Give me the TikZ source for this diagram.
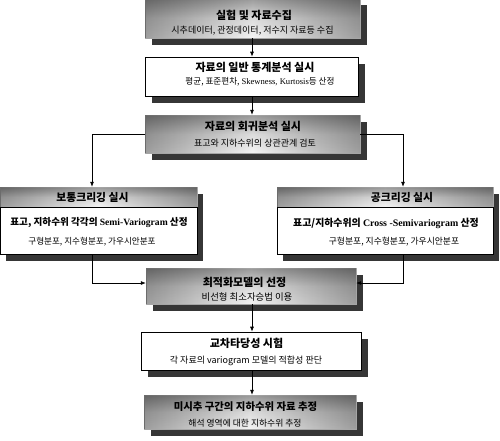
\documentclass[tikz,border=0pt]{standalone}
\usepackage{fontspec}
\setmainfont{Noto Sans CJK KR}
\newfontfamily\tms{Liberation Serif}
\usetikzlibrary{arrows.meta,fadings}
\definecolor{shdw}{HTML}{363636}
\definecolor{gA}{HTML}{858585}
\definecolor{gB}{HTML}{F7F7F7}
\definecolor{gC}{HTML}{DCDCDC}
\definecolor{gD}{HTML}{555555}
\pgfdeclareverticalshading{boxshade}{100bp}{color(0bp)=(gA); color(22bp)=(gB); color(50bp)=(gC); color(100bp)=(gD)}
\tikzfading[name=hedge, left color=transparent!65, right color=transparent!65, middle color=transparent!100]
\pgfdeclarelayer{bg}
\pgfsetlayers{bg,main}
\begin{document}
\begin{tikzpicture}[x=1pt,y=-1pt,
  gbox/.style={shading=boxshade, draw=black!35, line width=0.4pt, inner sep=0pt},
  wbox/.style={fill=white, draw=black, line width=0.6pt, inner sep=0pt},
  ttl/.style={font=\bfseries\fontsize{11}{13}\selectfont, inner sep=0pt},
  hdr/.style={font=\bfseries\fontsize{10.8}{12}\selectfont, inner sep=0pt},
  bld/.style={font=\bfseries\fontsize{9.6}{11}\selectfont, inner sep=0pt},
  sub/.style={font=\fontsize{9}{10}\selectfont, inner sep=0pt},
  arr/.style={-{Latex[length=5pt,width=4pt]}, line width=0.7pt},
  edge/.style={fill=black, path fading=hedge}]
\useasboundingbox (0,0) rectangle (500,440);
% boxes
\node[gbox, minimum width=215pt, minimum height=40pt] (b1) at (252.5,18) {};
\node[wbox, minimum width=213pt, minimum height=39pt] (b2) at (251.5,76.5) {};
\node[gbox, minimum width=215pt, minimum height=38pt] (b3) at (252.5,134) {};
\node[gbox, minimum width=197pt, minimum height=20pt] (Lh) at (98.5,197) {};
\node[wbox, minimum width=197pt, minimum height=47pt] (Lb) at (98.5,230.5) {};
\node[gbox, minimum width=216pt, minimum height=20pt] (Rh) at (385,197) {};
\node[wbox, minimum width=216pt, minimum height=47pt] (Rb) at (385,230.5) {};
\node[gbox, minimum width=210pt, minimum height=36pt] (b6) at (251,286) {};
\node[wbox, minimum width=220pt, minimum height=38pt] (b7) at (251,351) {};
\node[gbox, minimum width=212pt, minimum height=34pt] (b8) at (250,412) {};
% horizontal darkening of shaded boxes
\foreach \b in {b1,b3,Lh,Rh,b6,b8}{
  \fill[edge] (\b.north west) rectangle (\b.south east);
}
% shadows
\begin{pgfonlayer}{bg}
\foreach \b in {b1,b2,b3,b6,b7,b8}{
  \fill[shdw] ([shift={(7,7)}]\b.north west) rectangle ([shift={(7,7)}]\b.south east);
}
\fill[shdw] ([shift={(6,7)}]Lh.north west) rectangle ([shift={(6,7)}]Lb.south east);
\fill[shdw] ([shift={(6,7)}]Rh.north west) rectangle ([shift={(6,7)}]Rb.south east);
\end{pgfonlayer}
% texts
\node[ttl] (t1) at (254,15.5) {실험 및 자료수집};
\node[sub] (s1) at (252.5,30.5) {시추데이터, 관정데이터, 저수지 자료등 수집};
\node[ttl] (t2) at (255,67) {자료의 일반 통계분석 실시};
\node[sub, font=\fontsize{8.6}{10}\selectfont] (s2) at (260,82) {평균, 표준편차, {\tms Skewness, Kurtosis}등 산정};
\node[ttl] (t3) at (253,126) {자료의 회귀분석 실시};
\node[sub] (s3) at (255,143.5) {표고와 지하수위의 상관관계 검토};
\node[hdr] (tL) at (92.5,197) {보통크리깅 실시};
\node[bld] (bL) at (99,223) {표고, 지하수위 각각의 {\tms Semi-Variogram} 산정};
\node[sub, font=\fontsize{8.6}{10}\selectfont] (sL) at (92,242) {구형분포, 지수형분포, 가우시안분포};
\node[hdr] (tR) at (402,197.5) {공크리깅 실시};
\node[bld, font=\bfseries\fontsize{9.9}{11}\selectfont] (bR) at (386,223) {표고/지하수위의 {\tms Cross -Semivariogram} 산정};
\node[sub, font=\fontsize{8.8}{10}\selectfont] (sR) at (394,242) {구형분포, 지수형분포, 가우시안분포};
\node[ttl] (t6) at (244.5,282) {최적화모델의 선정};
\node[sub, font=\fontsize{9.4}{10}\selectfont] (s6) at (247,297) {비선형 최소자승법 이용};
\node[ttl] (t7) at (246.5,343) {교차타당성 시험};
\node[sub] (s7) at (246,361) {각 자료의 variogram 모델의 적합성 판단};
\node[ttl, font=\bfseries\fontsize{10.4}{12}\selectfont] (t8) at (245.5,407) {미시추 구간의 지하수위 자료 추정};
\node[sub, font=\fontsize{8.8}{10}\selectfont] (s8) at (245,423) {해석 영역에 대한 지하수위 추정};
% connectors
\coordinate (lx) at (92,0);
\coordinate (rx) at (403,0);
\coordinate (cx) at (252,0);
\draw[arr] (b1.south -| cx) -- (b2.north -| cx);
\draw[arr] (b2.south -| cx) -- (b3.north -| cx);
\draw[arr] (b3.west) -| (Lh.north -| lx);
\draw[arr] (b3.east) -| (Rh.north -| rx);
\draw[arr] (Lb.south -| lx) |- ([yshift=3pt]b6.west);
\draw[arr] (Rb.south -| rx) |- ([yshift=3pt]b6.east);
\draw[arr] (b6.south -| cx) -- (b7.north -| cx);
\draw[arr] (b7.south -| cx) -- (b8.north -| cx);
\end{tikzpicture}
\end{document}
